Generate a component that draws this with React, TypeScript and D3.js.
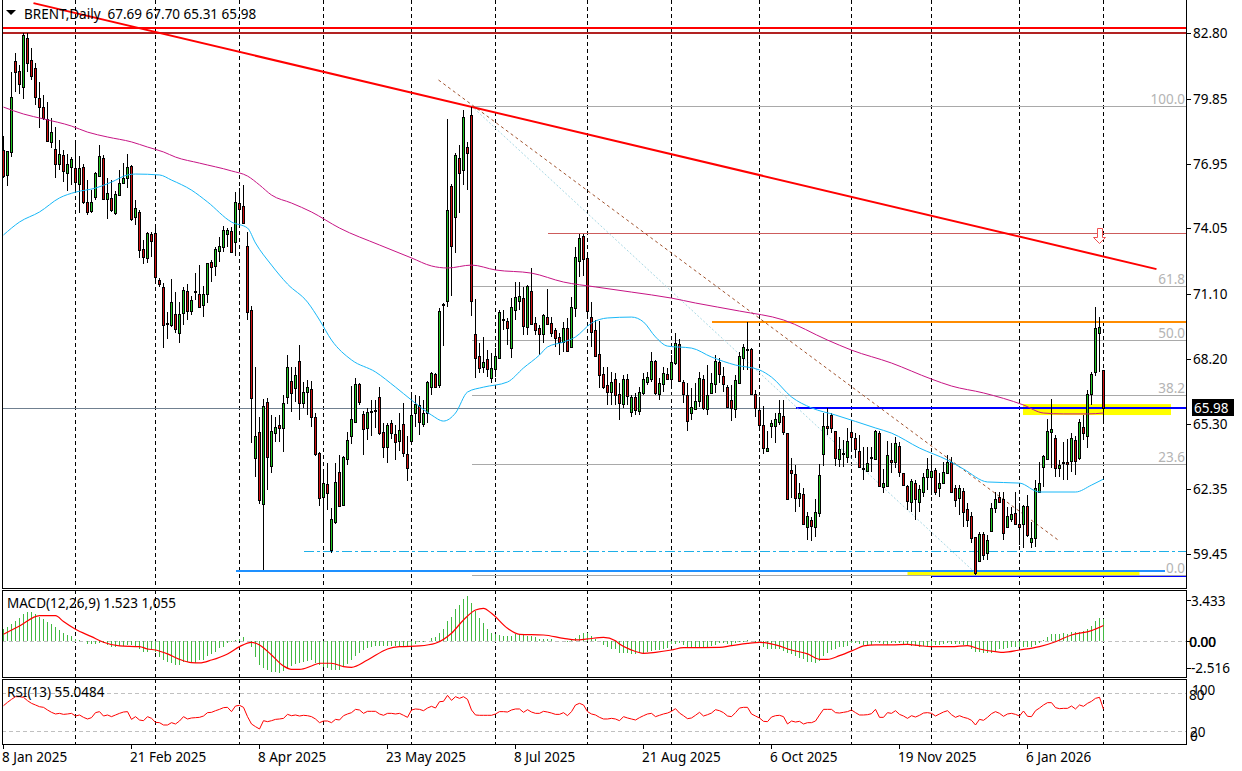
import React from "react";
import * as d3 from "d3";

const highs = [
78.18,77.51,81.05,81.90,81.37,82.80,82.80,82.13,81.46,80.60,
80.02,79.71,78.99,78.59,78.00,77.56,77.38,77.24,78.00,77.29,
76.93,76.21,75.76,76.57,77.78,77.33,76.30,76.21,75.72,76.66,
76.97,77.38,76.88,75.32,74.87,73.54,73.88,73.88,74.20,71.82,
71.60,70.30,71.78,71.19,70.74,71.42,71.55,71.01,72.04,72.40,
71.46,72.49,72.63,73.21,73.66,74.15,74.06,74.11,75.67,75.85,
75.99,73.88,70.57,67.83,65.59,66.40,66.44,65.68,65.59,65.68,
66.58,68.37,67.83,67.83,68.82,67.16,67.25,67.20,65.77,64.02,
63.21,63.53,61.51,63.53,63.89,63.84,64.92,66.98,67.34,67.11,
65.86,66.00,66.35,66.35,66.93,65.32,65.32,65.46,65.23,65.77,
66.22,64.74,66.67,66.58,66.53,66.35,67.20,67.61,67.56,70.48,
70.70,78.95,76.03,77.42,77.78,79.35,77.92,79.48,70.88,68.91,
69.18,68.59,68.46,68.68,70.39,70.39,70.03,70.92,71.64,71.64,
71.42,71.51,72.27,70.07,69.71,70.21,71.33,70.07,69.58,69.35,
69.85,70.03,70.97,73.21,73.79,73.79,72.90,70.74,69.94,69.89,
67.83,67.83,67.61,67.56,67.11,67.47,67.52,66.58,66.67,66.93,
67.56,67.61,68.50,68.15,67.34,67.83,67.79,68.37,69.35,69.09,
67.25,67.11,66.89,67.11,67.61,67.47,67.92,67.56,68.37,68.23,
67.83,67.02,67.02,67.47,68.50,68.86,69.85,68.68,66.80,66.49,
66.08,64.96,65.46,65.77,66.35,66.35,64.87,63.75,63.44,62.63,
62.41,61.33,61.11,61.92,63.48,65.77,66.00,65.77,64.96,64.69,
64.56,65.10,65.37,64.87,64.78,64.25,64.25,64.25,65.01,64.96,
63.26,64.51,64.42,64.69,64.47,63.08,62.54,62.81,62.77,62.54,
63.08,63.75,63.75,63.30,63.08,63.57,63.89,63.80,62.54,62.54,
62.41,61.74,61.33,60.21,60.44,60.44,60.30,61.74,62.23,62.23,
62.23,61.56,61.56,62.23,61.74,61.65,62.09,60.88,62.77,63.57,
63.89,65.50,66.40,64.78,63.66,64.47,64.60,64.87,64.74,65.50,
65.68,66.80,67.61,70.52,70.07,67.70];

const opens = [
77.56,76.44,77.47,81.55,81.10,80.38,82.58,81.59,81.23,79.89,
79.48,78.95,77.92,77.60,76.93,77.33,76.53,76.79,76.75,76.03,
76.79,75.23,74.82,75.45,76.39,77.20,75.36,75.41,74.73,75.54,
76.08,76.30,76.84,74.55,74.78,73.12,72.72,73.79,73.84,71.73,
71.42,69.80,69.71,70.21,69.35,70.25,71.24,70.34,71.24,71.10,
70.61,71.10,72.54,72.36,73.03,73.21,73.79,73.93,73.43,75.18,
75.05,73.25,70.39,63.75,64.92,61.69,66.26,63.39,64.87,65.23,
65.10,66.49,67.20,66.89,68.10,66.22,66.71,66.85,65.59,63.98,
62.00,62.59,59.63,60.88,63.12,61.65,63.71,64.74,65.37,67.07,
65.72,65.10,65.86,65.90,66.49,64.92,64.25,65.32,64.83,64.51,
65.28,63.93,64.51,65.77,66.13,65.28,65.77,66.93,67.52,67.02,
70.61,70.79,75.94,74.55,77.20,76.66,77.69,79.13,69.31,68.32,
67.83,68.19,67.34,67.74,68.23,69.98,69.89,68.68,70.39,70.79,
70.92,69.62,71.24,69.80,69.58,69.31,70.07,69.80,69.49,69.18,
68.95,69.58,68.73,70.48,72.58,73.70,72.72,70.07,69.49,68.41,
67.52,67.02,66.71,67.29,66.62,66.17,67.29,65.81,66.49,65.86,
66.67,67.16,67.29,68.10,66.62,67.07,67.52,67.29,68.01,68.86,
67.16,66.58,65.77,65.95,66.31,67.29,65.95,66.67,67.07,68.06,
67.43,66.93,66.35,65.95,67.11,68.23,68.64,68.64,66.62,65.90,
65.23,64.07,65.19,65.19,65.37,65.63,64.87,63.21,63.04,61.96,
62.14,60.66,60.97,60.66,61.29,63.93,65.19,65.68,64.96,63.71,
63.98,63.80,64.92,64.65,64.07,63.30,63.17,63.80,63.71,64.87,
62.45,62.50,63.66,63.57,64.29,63.08,62.50,61.78,62.63,61.78,
62.23,62.90,62.90,63.21,62.41,62.63,63.08,63.57,62.41,61.96,
62.27,61.47,61.15,60.21,59.14,60.35,59.50,60.48,61.51,62.00,
61.92,60.66,61.02,61.29,60.79,60.79,61.60,59.99,60.17,62.23,
63.35,63.71,64.92,64.65,63.30,63.57,63.57,63.62,64.56,63.75,
65.14,64.74,66.62,67.61,69.35,67.69];

const closes = [
76.39,77.51,79.93,81.05,80.52,82.71,81.46,80.87,79.93,79.48,
78.99,77.96,78.36,76.93,77.38,76.62,76.93,77.15,76.12,76.75,
75.23,74.78,75.23,76.53,77.29,75.36,75.63,74.87,75.59,76.08,
76.30,76.79,74.46,74.96,73.07,72.76,73.84,73.48,71.87,71.55,
69.71,69.78,70.74,69.53,70.21,71.28,70.34,70.83,71.19,70.52,
71.10,72.49,72.31,73.12,73.25,73.97,73.97,72.99,75.23,74.91,
74.29,70.30,66.44,64.74,61.87,66.08,63.80,64.96,65.14,65.10,
66.22,67.83,66.67,67.47,66.22,66.71,66.93,65.59,63.93,61.96,
62.63,62.18,61.02,62.68,61.60,63.80,64.56,65.50,67.07,66.26,
65.05,65.81,65.86,65.90,64.87,64.25,65.23,64.87,64.47,65.01,
63.98,63.30,65.68,66.17,65.37,65.77,67.16,67.56,66.93,70.34,
70.65,74.87,73.25,77.33,76.53,79.04,77.42,70.79,68.23,67.79,
68.06,67.74,67.79,68.32,70.30,69.98,69.58,70.52,70.97,71.01,
69.67,71.46,69.76,69.49,69.31,70.16,69.76,69.35,69.13,68.95,
69.58,68.55,70.52,72.76,73.61,72.67,70.34,69.40,68.32,67.47,
66.93,66.71,67.16,66.58,66.22,67.29,66.53,66.49,65.90,66.71,
67.29,67.38,68.10,66.67,67.11,67.56,67.29,68.06,68.91,67.20,
66.62,65.41,66.04,66.31,67.34,66.00,66.58,67.11,68.10,67.52,
67.07,66.04,66.00,67.25,68.32,68.73,68.64,66.62,66.00,65.23,
64.20,64.20,65.32,65.50,65.77,64.92,61.92,63.08,61.96,62.18,
60.79,61.15,60.70,61.33,63.00,65.19,65.10,65.10,63.75,64.16,
63.96,64.51,64.69,64.16,63.35,63.28,63.53,63.80,64.96,62.50,
62.63,63.89,63.57,64.42,63.12,62.54,61.83,62.72,61.92,62.36,
62.90,63.26,63.17,62.23,62.63,63.12,63.57,62.23,61.87,62.41,
61.33,60.97,60.17,58.60,60.35,59.41,60.08,61.51,61.92,61.78,
60.39,61.15,61.24,60.79,60.66,61.60,60.30,60.17,62.41,62.63,
63.84,64.96,65.05,63.30,63.44,63.57,63.48,64.65,63.62,65.37,
64.87,66.62,67.52,69.58,69.62,65.98];

const lows = [
76.30,75.94,77.24,80.16,80.07,79.84,81.05,80.69,79.57,78.54,
78.90,77.92,77.65,76.30,76.66,76.12,75.72,75.99,75.72,74.73,
75.14,74.64,74.73,75.32,76.35,75.32,74.46,74.78,74.64,75.50,
76.03,75.85,74.37,74.20,72.72,72.45,72.49,72.76,71.60,71.42,
68.68,69.09,69.62,69.35,68.91,69.71,69.94,70.16,70.83,70.48,
70.07,70.70,71.64,71.91,72.54,72.99,73.21,72.94,72.81,74.24,
74.24,69.94,64.42,62.90,61.69,58.73,62.32,63.08,64.47,64.47,
64.02,66.17,65.81,66.26,65.46,66.00,65.68,65.14,63.84,61.60,
60.12,61.42,59.49,60.79,61.56,61.60,63.44,64.38,65.32,66.13,
63.89,64.56,64.74,65.10,64.78,63.75,63.53,64.60,63.66,64.07,
63.80,62.72,64.42,65.14,64.78,65.14,65.32,66.58,66.89,66.89,
68.77,70.52,71.01,72.94,74.73,75.99,75.76,70.12,67.34,67.56,
67.56,67.38,67.11,67.38,68.19,69.49,68.82,68.23,69.94,70.39,
69.27,69.27,69.71,69.27,68.37,68.91,69.71,69.18,68.73,68.37,
68.50,68.50,68.73,70.07,71.87,71.91,70.07,68.73,68.28,66.89,
66.85,66.13,66.13,66.13,65.46,66.00,66.13,65.59,65.68,65.68,
66.58,67.02,67.16,66.58,66.35,66.71,67.25,66.89,67.92,67.16,
66.22,64.96,65.46,65.90,66.04,65.90,65.68,66.62,66.67,67.11,
66.71,66.00,65.41,65.55,67.07,67.70,67.70,66.58,65.59,65.01,
63.93,64.02,64.65,64.42,65.23,64.78,61.87,61.96,61.33,61.56,
60.75,60.08,60.03,60.21,61.11,63.39,64.78,64.87,63.39,63.35,
63.35,63.53,64.16,63.75,63.30,62.77,63.12,63.12,63.66,62.50,
62.18,62.45,63.08,63.30,62.90,62.50,61.42,61.33,60.97,61.33,
62.00,62.32,62.09,62.09,62.00,62.59,63.04,62.18,61.56,61.20,
60.66,60.66,59.94,58.51,59.09,59.18,59.18,60.44,61.29,61.74,
60.08,60.61,60.88,60.75,59.85,59.72,60.21,59.72,59.76,62.18,
62.45,63.66,63.30,62.90,62.90,62.77,62.77,63.12,62.99,63.66,
64.56,64.20,66.13,67.43,67.61,65.31];

const maFastBars = [0,4,9,14,18,23,27,31,33,39,42,47,51,57,61,63,67,71,76,79,82,87,93,98,102,107,110,113,116,120,126,130,134,136,140,143,147,151,157,160,163,166,172,177,183,189,192,197,202,208,218,222,229,236,240,246,254,259,268,272,275];
const maFastValues = [73.75,74.33,74.78,75.41,75.67,75.85,76.12,76.44,76.48,76.44,76.21,75.76,75.23,74.33,74.06,73.39,72.40,71.55,70.74,69.94,69.04,68.15,67.61,66.93,66.35,65.68,65.41,65.77,66.71,66.93,67.16,67.79,68.37,68.73,68.95,69.18,69.80,70.03,70.07,69.85,69.18,68.77,68.68,68.28,67.92,67.70,67.38,66.49,66.00,65.68,65.10,64.87,64.20,63.66,63.26,62.68,62.63,62.23,62.23,62.54,62.81];

const maSlowBars = [0,5,10,17,21,26,32,36,40,43,49,57,61,64,67,72,77,84,94,102,107,111,117,123,132,140,148,157,167,173,184,195,206,212,222,232,237,245,255,260,265,271,275];
const maSlowValues = [79.48,79.17,78.95,78.63,78.36,78.14,77.92,77.69,77.47,77.24,76.97,76.62,76.39,75.99,75.54,75.18,74.78,74.06,73.30,72.72,72.36,72.27,72.40,72.18,72.04,71.64,71.42,71.19,70.92,70.70,70.34,69.94,69.04,68.59,68.01,67.29,66.98,66.67,66.13,65.77,65.73,65.73,65.77];

const macdHist = [
.82,.98,1.17,1.40,1.56,1.85,1.99,1.99,1.85,1.67,
1.49,1.33,1.17,.98,.76,.57,.41,.34,.16,.07,
0,-.21,-.23,-.23,-.16,-.16,-.27,-.39,-.44,-.34,
-.32,-.30,-.27,-.44,-.57,-.73,-.73,-.57,-.73,-1.08,
-1.31,-1.47,-1.54,-1.65,-1.63,-1.42,-1.42,-1.49,-1.49,-1.31,
-1.31,-1.03,-.89,-.73,-.50,-.39,-.11,-.05,.07,.11,
.27,0,-.44,-1.08,-1.65,-1.88,-1.99,-2.15,-2.15,-2.18,
-2.06,-1.92,-1.72,-1.58,-1.49,-1.42,-1.35,
-1.31,-1.49,-1.65,-1.81,-1.83,-1.99,-1.99,-1.99,-1.81,-1.58,
-1.31,-1.01,-.80,-.62,-.50,-.44,-.34,-.32,-.32,-.32,
-.32,-.34,-.34,-.34,-.34,-.34,-.21,-.09,-.05,0,
.23,.30,.57,.80,1.37,1.63,2.18,2.47,2.86,3.09,
2.59,2.08,1.56,1.21,.82,.57,.48,.41,.37,.37,
.37,.46,.46,.41,.37,.34,.25,.11,.11,.11,
.11,.02,0,0,-.05,.07,.23,.41,.57,.53,
.37,.14,0,-.27,-.44,-.53,-.57,-.80,
-.80,-.85,-.89,-.92,-.85,-.85,-.78,-.66,-.62,-.62,
-.57,-.50,-.23,-.23,-.11,-.27,-.46,-.44,-.44,-.44,
-.44,-.44,-.34,-.27,-.16,-.16,-.21,-.27,-.16,-.09,
-.05,.07,0,-.05,-.09,-.44,-.57,-.57,-.57,-.57,
-.69,-.85,-.89,-1.01,-1.15,-1.26,-1.42,-1.47,-1.49,-1.35,
-1.03,-.80,-.62,-.55,-.44,-.39,-.34,-.16,-.16,-.21,
-.27,-.27,-.27,-.09,-.16,-.23,-.27,-.16,-.16,-.16,
-.21,-.23,-.32,-.32,-.44,-.32,-.34,
-.32,-.27,-.27,-.23,-.16,-.21,-.23,-.23,-.27,-.32,
-.55,-.78,-.78,-.85,-.85,-.80,-.66,-.57,-.57,-.50,
-.44,-.44,-.44,-.44,-.39,-.39,-.27,-.11,.07,.30,
.48,.48,.46,.57,.46,.60,.60,.64,.71,.80,
1.03,1.37,1.56,1.52];

const signalBars = [0,4,9,13,15,18,22,25,29,34,36,38,41,44,47,49,52,56,59,62,64,67,70,72,74,77,79,82,85,87,91,96,99,104,108,112,115,118,120,122,126,129,135,140,143,146,150,153,154,157,160,163,167,170,179,182,186,189,193,197,201,204,206,209,213,215,218,222,226,229,232,237,241,244,248,250,254,259,263,267,272,275];
const signalValues = [.46,1.03,1.74,1.74,1.33,.80,.30,-.09,-.34,-.39,-.55,-.62,-.89,-1.26,-1.49,-1.51,-1.31,-.89,-.39,-.09,-.27,-.96,-1.72,-1.95,-1.95,-1.72,-1.53,-1.53,-1.76,-1.81,-1.31,-.55,-.39,-.34,-.16,.53,1.44,2.13,2.24,1.90,.87,.46,.41,.18,.07,.14,.25,.02,-.21,-.62,-.85,-.78,-.62,-.46,-.44,-.32,-.16,-.09,-.27,-.62,-.89,-1.26,-1.26,-1.01,-.57,-.34,-.27,-.27,-.23,-.32,-.39,-.39,-.32,-.55,-.73,-.78,-.62,-.39,-.05,.41,.71,1.06];

const rsiValues = [
60.5,65.8,70.5,74.7,74.7,73.7,68.4,64.2,61.6,58.9,
57.9,53.7,50,47.4,48.4,46.8,47.4,48.4,44.2,45.8,
42.1,39.5,41.6,49.5,51.1,44.2,45.8,43.2,45.8,48.4,
50.5,51.1,38.9,43.2,37.9,36.8,43.2,40.5,34.2,33.7,
30,30,33.7,31.6,36.3,43.2,39.5,41.1,41.6,42.1,
44.2,49.5,50,52.6,54.7,57.4,57.9,51.1,60,61.1,
57.9,43.2,31.6,27.4,23.7,36.8,35.3,36.8,38.9,39.5,
40.5,46.8,44.7,45.8,44.2,45.3,44.7,
43.2,39.5,33.7,36.3,36.3,33.7,38.9,37.9,44.7,47.4,
49.5,54.7,53.7,48.4,51.6,51.6,51.6,47.4,45.3,48.4,
48.4,47.4,48.4,45.3,42.1,53.7,55.3,54.7,52.6,56.8,
59.5,56.8,66.8,67.4,76.8,68.9,74.7,72.1,74.7,70.5,
53.7,45.8,45.3,45.3,45.3,45.3,47.4,51.1,51.1,50.5,53.7,
55.3,55.3,50,54.2,50.5,48.4,48.4,51.6,50.5,48.9,
46.8,46.8,49.5,44.7,51.1,61.6,64.2,61.6,51.1,47.4,
45.8,42.1,39.5,39.5,40.5,39.5,36.8,
43.2,41.1,39.5,37.9,41.6,44.7,47.4,48.4,43.2,45.3,
47.4,48.9,51.6,55.8,48.9,44.7,40,41.1,45.3,50,
44.2,46.3,48.9,54.2,52.6,49.5,44.2,43.2,49.5,56.8,
57.9,57.9,47.4,44.2,41.1,35.8,35.3,42.6,44.7,45.3,
43.2,31.6,36.3,34.7,35.8,31.6,33.7,33.7,36.3,45.8,
54.7,54.7,54.7,49.5,48.9,50,51.1,53.7,49.5,45.8,
45.8,46.3,47.9,54.7,42.1,42.1,49.5,48.4,52.6,46.8,
44.2,40.5,44.7,42.6,45.3,48.9,49.5,
48.4,44.2,47.4,50.5,52.6,46.3,42.1,44.7,42.1,40.5,
37.4,30,38.9,37.4,42.1,47.9,51.1,48.4,43.7,47.4,
48.4,46.8,44.2,52.1,43.7,43.2,52.6,56.8,61.6,65.3,
65.3,57.4,55.8,56.3,56.3,60,55.3,61.6,59.5,64.2,
67.4,72.1,73.7,55.05];

const gridBars = [18,38,59,80,102,123,146,167,189,212,232,254,275];
const dateLabels = ["8 Jan 2025","21 Feb 2025","8 Apr 2025","23 May 2025","8 Jul 2025","21 Aug 2025","6 Oct 2025","19 Nov 2025","6 Jan 2026"];
const dateBars = [0,32,64,96,128,160,192,224,256];
const priceTicks = ["82.80","79.85","76.95","74.05","71.10","68.20","65.30","62.35","59.45"];
const fibLabels = ["100.0","61.8","50.0","38.2","23.6","0.0"];
const fibPrices = [79.53,71.46,69.04,66.58,63.48,58.49];
const fibStartBar = 117;

const W = 1242, H = 771;
const FONT = "'Noto Sans', sans-serif";
const LEFT = 2, RIGHT = 1186;
const MAIN_BOTTOM = 588, MACD_TOP = 590, MACD_BOTTOM = 677, RSI_TOP = 679, RSI_BOTTOM = 744;

const x = d3.scaleLinear().domain([0, 1]).range([3.5, 7.5]);
const y = d3.scaleLinear().domain([84.28, 58.0]).range([0, 586.4]);
const yMacd = d3.scaleLinear().domain([-2.516, 3.433]).range([677.6, 591]);
const yRsi = d3.scaleLinear().domain([0, 100]).range([744, 680.67]);
const py = (p: number) => Math.round(y(p)) + 0.5;

const pts = (bars: number[], vals: number[]) => bars.map((b, i) => [b, vals[i]] as [number, number]);
const maLine = d3.line<[number, number]>().x(d => x(d[0])).y(d => y(d[1])).curve(d3.curveMonotoneX);
const sigLine = d3.line<[number, number]>().x(d => x(d[0])).y(d => yMacd(d[1])).curve(d3.curveMonotoneX);
const rsiLine = d3.line<number>().x((_, i) => x(i)).y(d => yRsi(d));

const HLine = ({ price, from, to, color, w = 1, dash }: any) => {
  const yy = w === 2 ? Math.round(y(price)) : py(price);
  return <line x1={from === undefined ? LEFT : x(from)} x2={to === undefined ? RIGHT : x(to)} y1={yy} y2={yy} stroke={color} strokeWidth={w} strokeDasharray={dash} shapeRendering="crispEdges" />;
};
const Trend = ({ a, b, color, w = 1, dash }: any) => (
  <line x1={x(a[0])} y1={y(a[1])} x2={x(b[0])} y2={y(b[1])} stroke={color} strokeWidth={w} strokeDasharray={dash} />
);
const txt = { fontFamily: FONT, fontSize: 13.5, fill: "#000" };

export default function App() {
  const green = "#22c422", red = "#d01010";
  const arrowX = Math.round(x(273.75)) + 0.5, arrowTop = Math.round(y(74.06)) + 0.5;
  return (
    <svg width={W} height={H} viewBox={`0 0 ${W} ${H}`} style={{ position: "fixed", left: 0, top: 0, background: "#fff", display: "block" }}>
      <rect width={W} height={H} fill="#fff" />
      {/* grid */}
      {gridBars.map(b => (
        <g key={b} stroke="#000" strokeDasharray="4 3" shapeRendering="crispEdges">
          <line x1={x(b)} x2={x(b)} y1={0} y2={MAIN_BOTTOM} />
          <line x1={x(b)} x2={x(b)} y1={MACD_TOP} y2={MACD_BOTTOM} />
          <line x1={x(b)} x2={x(b)} y1={RSI_TOP} y2={RSI_BOTTOM} />
        </g>
      ))}
      {/* zones */}
      <rect x={x(255) - 0.5} width={x(292) - x(255)} y={y(66.17)} height={y(65.68) - y(66.17)} fill="#ffff00" />
      <rect x={x(226)} width={x(284) - x(226)} y={y(58.69)} height={y(58.47) - y(58.69)} fill="#ffff00" />
      {/* levels */}
      <HLine price={65.98} color="#708090" />
      {fibPrices.map(p => <HLine key={p} price={p} from={fibStartBar} color="#a9a9a9" />)}
      <HLine price={73.84} from={136} color="#cd5c5c" />
      <HLine price={69.85} from={177} color="#ff8c00" w={2} />
      <HLine price={66.0} from={198} color="#0000ff" w={2} />
      <HLine price={59.58} from={75} color="#1eb0e8" dash="10 3 3 3" />
      <HLine price={58.69} from={58} to={290.25} color="#1e90ff" w={2} />
      <HLine price={58.46} from={232} color="#0000ff" w={1} />
      <HLine price={83.03} color="#ff0000" w={2} />
      <HLine price={82.80} color="#b22222" w={2} />
      {/* trend lines */}
      <Trend a={[108.75, 84.28 - 80 * 0.04482]} b={[264, 84.28 - 541 * 0.04482]} color="#a0522d" dash="3 3" />
      <Trend a={[117, 79.53]} b={[243, 58.6]} color="#a8d8e4" dash="2 2" />
      <Trend a={[7.5, 84.14]} b={[288.25, 72.22]} color="#ff0000" w={2} />
      {/* candles */}
      {closes.map((c, i) => {
        const o = opens[i];
        const top = Math.round(y(Math.max(o, c)));
        const bot = Math.round(y(Math.min(o, c)));
        const cx = x(i);
        return (
          <g key={i} shapeRendering="crispEdges">
            <line x1={cx} x2={cx} y1={Math.round(y(highs[i]))} y2={Math.round(y(lows[i]))} stroke="#000" />
            <rect x={cx - 1} width={2} y={top + 0.5} height={Math.max(bot - top, 1)} fill={c >= o ? green : red} stroke="#000" />
          </g>
        );
      })}
      {/* moving averages */}
      <path d={maLine(pts(maFastBars, maFastValues)) || ""} fill="none" stroke="#18b8f8" strokeWidth={1} />
      <path d={maLine(pts(maSlowBars, maSlowValues)) || ""} fill="none" stroke="#c71585" strokeWidth={1} />
      {/* arrow */}
      <path d={`M${arrowX - 2},${arrowTop}H${arrowX + 3}V${arrowTop + 9}H${arrowX + 6}L${arrowX},${arrowTop + 15}L${arrowX - 6},${arrowTop + 9}H${arrowX - 2}Z`} fill="#fff" stroke="#f05050" strokeWidth={1} />
      {/* fib labels */}
      {fibLabels.map((l, i) => (
        <text key={l} x={1185} y={py(fibPrices[i]) - 3} textAnchor="end" style={{ ...txt, fill: "#b4b4b4" }}>{l}</text>
      ))}
      {/* macd */}
      <line x1={LEFT} x2={RIGHT} y1={641.5} y2={641.5} stroke="#c0c0c0" strokeDasharray="4 3" shapeRendering="crispEdges" />
      {macdHist.map((v, i) => (
        <line key={i} x1={x(i)} x2={x(i)} y1={yMacd(0)} y2={yMacd(v)} stroke="#42b942" shapeRendering="crispEdges" />
      ))}
      <path d={sigLine(pts(signalBars, signalValues)) || ""} fill="none" stroke="#ff0000" strokeWidth={1.2} />
      {/* rsi */}
      {[80, 20].map(l => (
        <line key={l} x1={LEFT} x2={RIGHT} y1={Math.round(yRsi(l)) + 0.5} y2={Math.round(yRsi(l)) + 0.5} stroke="#c0c0c0" strokeDasharray="4 3" shapeRendering="crispEdges" />
      ))}
      <path d={rsiLine(rsiValues) || ""} fill="none" stroke="#ff0000" strokeWidth={1} />
      {/* frames */}
      <g stroke="#000" fill="none" shapeRendering="crispEdges">
        <path d={`M${LEFT + 0.5},0V${MAIN_BOTTOM + 0.5}H${RIGHT + 0.5}V0`} />
        <path d={`M${LEFT + 0.5},${MACD_BOTTOM + 0.5}V${MACD_TOP + 0.5}H${RIGHT + 0.5}V${MACD_BOTTOM + 0.5}Z`} />
        <path d={`M${LEFT + 0.5},${RSI_BOTTOM + 0.5}V${RSI_TOP + 0.5}H${RIGHT + 0.5}V${RSI_BOTTOM + 0.5}Z`} />
      </g>
      {/* right axis */}
      {priceTicks.map(t => (
        <g key={t}>
          <line x1={RIGHT} x2={RIGHT + 5} y1={py(+t)} y2={py(+t)} stroke="#000" shapeRendering="crispEdges" />
          <text x={1193} y={y(+t) + 5} style={txt}>{t}</text>
        </g>
      ))}
      <rect x={1192} y={399} width={42} height={17} fill="#000" />
      <text x={1194} y={y(65.98) + 4.7} style={{ ...txt, fill: "#fff" }}>65.98</text>
      <text x={1191} y={606} style={txt}>3.433</text>
      <text x={1189} y={647} style={txt}>0.00</text>
      <text x={1189.5} y={647} style={txt}>0.00</text>
      <text x={1191} y={673} style={txt}>-2.516</text>
      <line x1={RIGHT} x2={RIGHT + 5} y1={600.5} y2={600.5} stroke="#000" shapeRendering="crispEdges" />
      <line x1={RIGHT} x2={RIGHT + 5} y1={641.5} y2={641.5} stroke="#000" shapeRendering="crispEdges" />
      <line x1={RIGHT} x2={RIGHT + 5} y1={668.5} y2={668.5} stroke="#000" shapeRendering="crispEdges" />
      <text x={1192} y={695} style={txt}>100</text>
      <text x={1189} y={700} style={txt}>80</text>
      <text x={1190} y={737} style={txt}>20</text>
      <text x={1190} y={741} style={txt}>0</text>
      {/* dates */}
      {dateBars.map((b, i) => (
        <g key={b}>
          <line x1={x(b)} x2={x(b)} y1={RSI_BOTTOM} y2={RSI_BOTTOM + 5} stroke="#000" shapeRendering="crispEdges" />
          <text x={x(b) - 1.5} y={762} style={txt}>{dateLabels[i]}</text>
        </g>
      ))}
      {/* titles */}
      <path d="M6,10H16L11,15Z" fill="#000" />
      <text x={24} y={19} style={txt}>{"BRENT,Daily\u00A0\u00A067.69 67.70 65.31 65.98"}</text>
      <text x={7} y={608} style={txt}>MACD(12,26,9) 1.523 1,055</text>
      <text x={7} y={697} style={txt}>RSI(13) 55.0484</text>
    </svg>
  );
}
